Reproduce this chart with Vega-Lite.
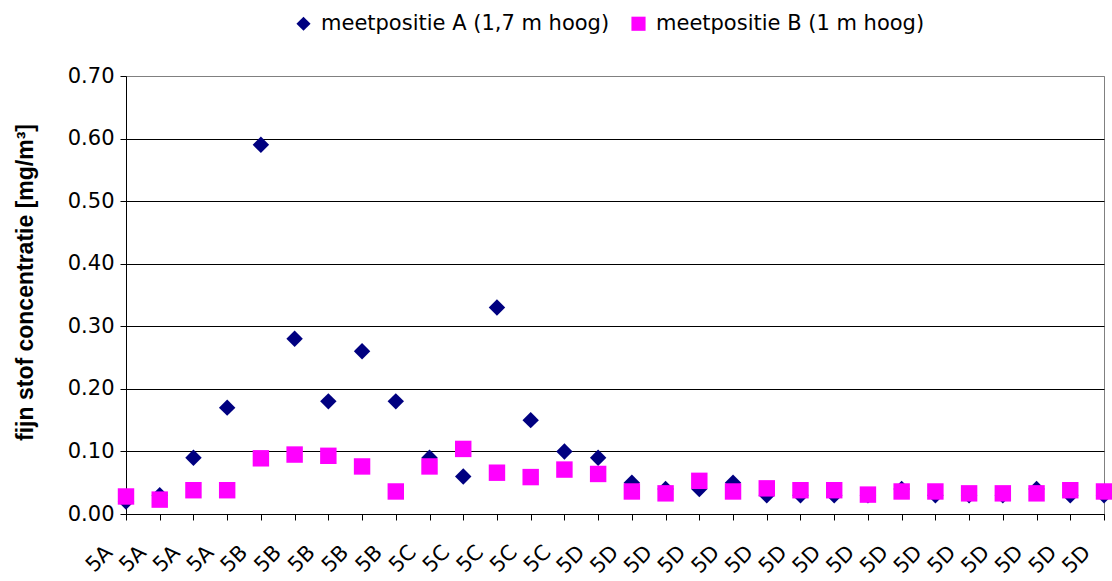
{
  "$schema": "https://vega.github.io/schema/vega-lite/v6.json",
  "autosize": {"type": "none"},
  "width": 978,
  "height": 438,
  "padding": {"left": 126, "top": 76, "right": 8, "bottom": 67},
  "background": "white",
  "config": {
    "font": "DejaVu Sans",
    "view": {"stroke": "#808080", "strokeWidth": 1}
  },
  "data": {
    "values": [
      {"i": 1, "series": "meetpositie A (1,7 m hoog)", "value": 0.02},
      {"i": 2, "series": "meetpositie A (1,7 m hoog)", "value": 0.03},
      {"i": 3, "series": "meetpositie A (1,7 m hoog)", "value": 0.09},
      {"i": 4, "series": "meetpositie A (1,7 m hoog)", "value": 0.17},
      {"i": 5, "series": "meetpositie A (1,7 m hoog)", "value": 0.59},
      {"i": 6, "series": "meetpositie A (1,7 m hoog)", "value": 0.28},
      {"i": 7, "series": "meetpositie A (1,7 m hoog)", "value": 0.18},
      {"i": 8, "series": "meetpositie A (1,7 m hoog)", "value": 0.26},
      {"i": 9, "series": "meetpositie A (1,7 m hoog)", "value": 0.18},
      {"i": 10, "series": "meetpositie A (1,7 m hoog)", "value": 0.09},
      {"i": 11, "series": "meetpositie A (1,7 m hoog)", "value": 0.06},
      {"i": 12, "series": "meetpositie A (1,7 m hoog)", "value": 0.33},
      {"i": 13, "series": "meetpositie A (1,7 m hoog)", "value": 0.15},
      {"i": 14, "series": "meetpositie A (1,7 m hoog)", "value": 0.10},
      {"i": 15, "series": "meetpositie A (1,7 m hoog)", "value": 0.09},
      {"i": 16, "series": "meetpositie A (1,7 m hoog)", "value": 0.05},
      {"i": 17, "series": "meetpositie A (1,7 m hoog)", "value": 0.04},
      {"i": 18, "series": "meetpositie A (1,7 m hoog)", "value": 0.04},
      {"i": 19, "series": "meetpositie A (1,7 m hoog)", "value": 0.05},
      {"i": 20, "series": "meetpositie A (1,7 m hoog)", "value": 0.03},
      {"i": 21, "series": "meetpositie A (1,7 m hoog)", "value": 0.03},
      {"i": 22, "series": "meetpositie A (1,7 m hoog)", "value": 0.03},
      {"i": 23, "series": "meetpositie A (1,7 m hoog)", "value": 0.03},
      {"i": 24, "series": "meetpositie A (1,7 m hoog)", "value": 0.04},
      {"i": 25, "series": "meetpositie A (1,7 m hoog)", "value": 0.03},
      {"i": 26, "series": "meetpositie A (1,7 m hoog)", "value": 0.03},
      {"i": 27, "series": "meetpositie A (1,7 m hoog)", "value": 0.03},
      {"i": 28, "series": "meetpositie A (1,7 m hoog)", "value": 0.04},
      {"i": 29, "series": "meetpositie A (1,7 m hoog)", "value": 0.03},
      {"i": 30, "series": "meetpositie A (1,7 m hoog)", "value": 0.03},
      {"i": 1, "series": "meetpositie B (1 m hoog)", "value": 0.028},
      {"i": 2, "series": "meetpositie B (1 m hoog)", "value": 0.023},
      {"i": 3, "series": "meetpositie B (1 m hoog)", "value": 0.038},
      {"i": 4, "series": "meetpositie B (1 m hoog)", "value": 0.038},
      {"i": 5, "series": "meetpositie B (1 m hoog)", "value": 0.089},
      {"i": 6, "series": "meetpositie B (1 m hoog)", "value": 0.095},
      {"i": 7, "series": "meetpositie B (1 m hoog)", "value": 0.093},
      {"i": 8, "series": "meetpositie B (1 m hoog)", "value": 0.076},
      {"i": 9, "series": "meetpositie B (1 m hoog)", "value": 0.036},
      {"i": 10, "series": "meetpositie B (1 m hoog)", "value": 0.076},
      {"i": 11, "series": "meetpositie B (1 m hoog)", "value": 0.104},
      {"i": 12, "series": "meetpositie B (1 m hoog)", "value": 0.066},
      {"i": 13, "series": "meetpositie B (1 m hoog)", "value": 0.059},
      {"i": 14, "series": "meetpositie B (1 m hoog)", "value": 0.071},
      {"i": 15, "series": "meetpositie B (1 m hoog)", "value": 0.064},
      {"i": 16, "series": "meetpositie B (1 m hoog)", "value": 0.036},
      {"i": 17, "series": "meetpositie B (1 m hoog)", "value": 0.033},
      {"i": 18, "series": "meetpositie B (1 m hoog)", "value": 0.053},
      {"i": 19, "series": "meetpositie B (1 m hoog)", "value": 0.036},
      {"i": 20, "series": "meetpositie B (1 m hoog)", "value": 0.041},
      {"i": 21, "series": "meetpositie B (1 m hoog)", "value": 0.038},
      {"i": 22, "series": "meetpositie B (1 m hoog)", "value": 0.038},
      {"i": 23, "series": "meetpositie B (1 m hoog)", "value": 0.031},
      {"i": 24, "series": "meetpositie B (1 m hoog)", "value": 0.036},
      {"i": 25, "series": "meetpositie B (1 m hoog)", "value": 0.036},
      {"i": 26, "series": "meetpositie B (1 m hoog)", "value": 0.033},
      {"i": 27, "series": "meetpositie B (1 m hoog)", "value": 0.033},
      {"i": 28, "series": "meetpositie B (1 m hoog)", "value": 0.033},
      {"i": 29, "series": "meetpositie B (1 m hoog)", "value": 0.038},
      {"i": 30, "series": "meetpositie B (1 m hoog)", "value": 0.036}
    ]
  },
  "mark": {"type": "point", "filled": true, "opacity": 1, "size": 270, "strokeWidth": 0},
  "encoding": {
    "x": {
      "field": "i",
      "type": "ordinal",
      "scale": {"type": "point", "padding": 0},
      "axis": {
        "title": null,
        "labelExpr": "datum.value <= 4 ? '5A' : datum.value <= 9 ? '5B' : datum.value <= 14 ? '5C' : '5D'",
        "labelAngle": -45,
        "labelAlign": "right",
        "labelBaseline": "middle",
        "labelFont": "DejaVu Sans",
        "labelFontSize": 21,
        "labelColor": "black",
        "labelPadding": 29,
        "labelOffset": -17,
        "labelOverlap": false,
        "domainColor": "black",
        "tickColor": "black",
        "tickSize": 6,
        "grid": false
      }
    },
    "y": {
      "field": "value",
      "type": "quantitative",
      "scale": {"domain": [0, 0.7], "nice": false},
      "axis": {
        "title": "fijn stof concentratie [mg/m³]",
        "titleFont": "Liberation Sans",
        "titleFontSize": 23,
        "titleFontWeight": "bold",
        "titleColor": "black",
        "titleX": -101,
        "titleY": 206,
        "titleBaseline": "middle",
        "values": [0, 0.1, 0.2, 0.3, 0.4, 0.5, 0.6, 0.7],
        "format": ".2f",
        "labelFont": "DejaVu Sans",
        "labelFontSize": 21,
        "labelColor": "black",
        "labelPadding": 6,
        "domainColor": "black",
        "tickColor": "black",
        "tickSize": 6,
        "grid": true,
        "gridColor": {"condition": {"test": "datum.value >= 0.69", "value": "#808080"}, "value": "#000000"},
        "gridOpacity": 1
      }
    },
    "color": {
      "field": "series",
      "type": "nominal",
      "scale": {"range": ["#000080", "#FF00FF"]},
      "legend": {
        "title": null,
        "orient": "none",
        "direction": "horizontal",
        "legendX": 167,
        "legendY": -63,
        "labelFont": "DejaVu Sans",
        "labelFontSize": 21,
        "labelColor": "black",
        "labelLimit": 0,
        "symbolSize": 200,
        "columnPadding": 18,
        "labelOffset": 7
      }
    },
    "shape": {
      "field": "series",
      "type": "nominal",
      "scale": {"range": ["diamond", "square"]}
    }
  }
}
